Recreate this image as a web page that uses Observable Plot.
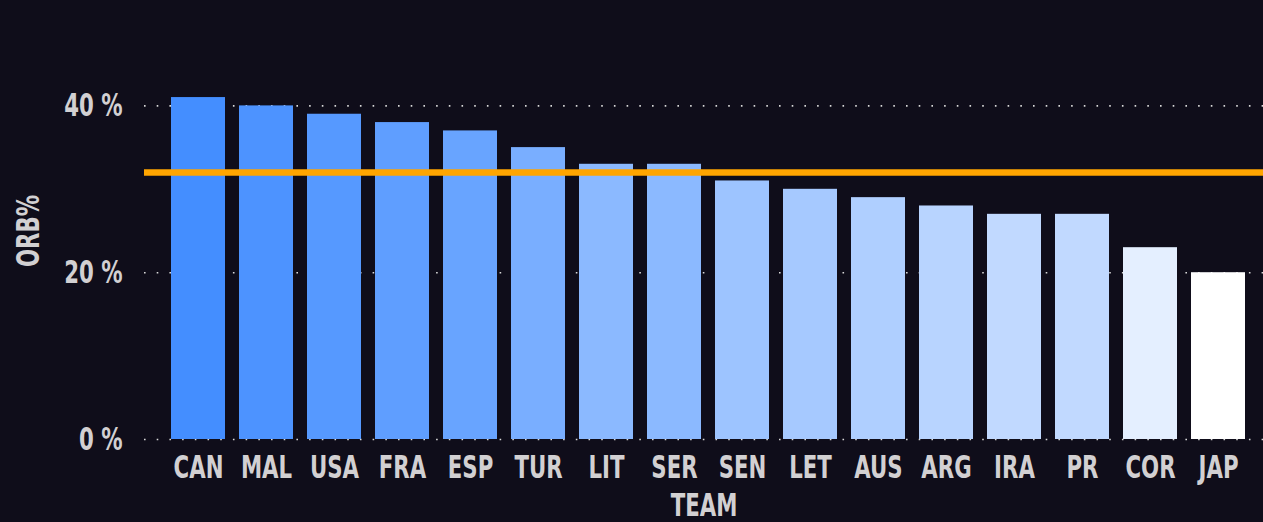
<!DOCTYPE html>
<html>
<head>
<meta charset="utf-8">
<script src="https://cdn.jsdelivr.net/npm/d3@7"></script>
<script src="https://cdn.jsdelivr.net/npm/@observablehq/plot@0.6"></script>
<style>
  html, body { margin: 0; padding: 0; background: #0f0d1a; }
  #chart { width: 1263px; height: 522px; overflow: hidden; }
  #chart svg { display: block; }
</style>
</head>
<body>
<div id="chart"></div>
<script>
const teams = ["CAN","MAL","USA","FRA","ESP","TUR","LIT","SER","SEN","LET","AUS","ARG","IRA","PR","COR","JAP"];
const orb = [41, 40, 39, 38, 37, 35, 33, 33, 31, 30, 29, 28, 27, 27, 23, 20];
const average = [32];
const yTicks = [0, 20, 40];

const data = teams.map((t, i) => ({team: t, orb: orb[i]}));

const fontFamily = "'DejaVu Sans Condensed', 'DejaVu Sans', sans-serif";

const chart = Plot.plot({
  width: 1263,
  height: 522,
  marginTop: 22,
  marginBottom: 83,
  marginLeft: 144,
  marginRight: 0,
  insetLeft: 13,
  insetRight: 3,
  style: {
    background: "transparent",
    color: "#d2d0d2",
    fontFamily,
    fontSize: "32px",
    fontWeight: "bold",
    overflow: "visible"
  },
  x: {domain: teams, padding: 0.2},
  y: {domain: [0, 50]},
  color: {
    type: "linear",
    domain: [d3.min(orb), d3.max(orb)],
    range: ["#ffffff", "#448eff"]
  },
  marks: [
    Plot.gridY(yTicks, {stroke: "#d8d8d8", strokeOpacity: 1, strokeWidth: 1.6, strokeDasharray: "1.6,11.1"}),
    Plot.barY(data, {x: "team", y: "orb", fill: "orb"}),
    Plot.ruleY(average, {stroke: "#ffa500", strokeWidth: 6.5}),
    Plot.axisX({tickSize: 0, tickPadding: 16, label: "TEAM", labelAnchor: "center", labelArrow: "none", labelOffset: 76}),
    Plot.axisY(yTicks, {tickSize: 0, tickPadding: 22, tickFormat: d => d + " %", label: "ORB%", labelAnchor: "center", labelArrow: "none", labelOffset: 128})
  ]
});

// narrow the glyphs horizontally to mimic the condensed display face
chart.querySelectorAll("text").forEach(el => {
  const t = el.getAttribute("transform") || "";
  el.setAttribute("transform", (t + " scale(0.74,1)").trim());
});

document.getElementById("chart").appendChild(chart);
</script>
</body>
</html>
